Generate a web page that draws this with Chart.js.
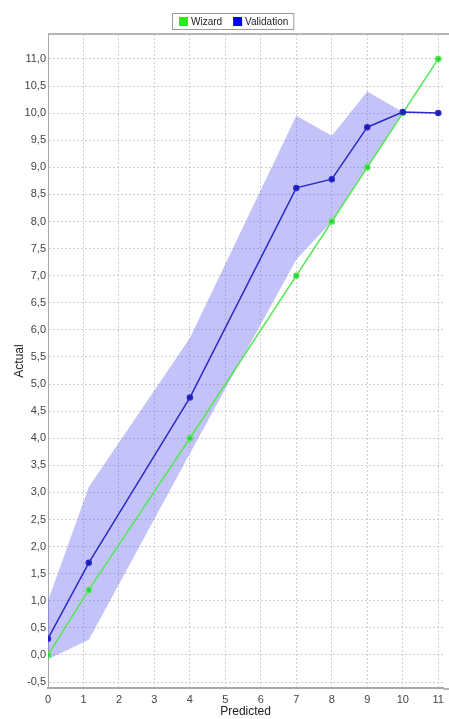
<!DOCTYPE html>
<html>
<head>
<meta charset="utf-8">
<title>Predicted vs Actual</title>
<script src="https://cdn.jsdelivr.net/npm/chart.js@4.4.1/dist/chart.umd.min.js"></script>
<style>
  html, body { margin: 0; padding: 0; background: #ffffff; }
  #chartBox { width: 449px; height: 719px; }
</style>
</head>
<body>
<div id="chartBox"><canvas id="predChart" width="449" height="719"></canvas></div>
<script>
// Dati
const wizardX = [0, 1.15, 4, 7, 8, 9, 10, 11];
const wizardY = [0, 1.2, 4, 7, 8, 9, 10, 11];

const validationX = [0, 1.15, 4, 7, 8, 9, 10, 11];
const validationY = [0.3, 1.7, 4.75, 8.62, 8.78, 9.74, 10.02, 10.0];

// Banda di confidenza della validazione
const bandX = [0, 1.15, 4, 7, 8, 9, 10];
const bandUpper = [1.0, 3.1, 5.85, 9.95, 9.58, 10.4, 10.02];
const bandLower = [-0.08, 0.28, 3.72, 7.3, 8.0, 9.0, 10.0];

const xTickValues = [0, 1, 2, 3, 4, 5, 6, 7, 8, 9, 10, 11];
const yTickValues = [-0.5, 0, 0.5, 1, 1.5, 2, 2.5, 3, 3.5, 4, 4.5, 5, 5.5, 6, 6.5,
                     7, 7.5, 8, 8.5, 9, 9.5, 10, 10.5, 11];

function toPoints(xs, ys) {
    return xs.map((x, i) => ({ x: x, y: ys[i] }));
}

// Legenda in stile riquadro, disegnata a mano
const boxedLegend = {
    id: 'boxedLegend',
    afterDraw(chart) {
        const ctx = chart.ctx;
        const area = chart.chartArea;

        // bordo superiore e asse inferiore fino al bordo dell'immagine
        ctx.save();
        ctx.strokeStyle = '#b4b4b4';
        ctx.lineWidth = 2;
        ctx.beginPath();
        ctx.moveTo(area.left, area.top);
        ctx.lineTo(chart.width, area.top);
        ctx.moveTo(area.right, area.bottom + 1);
        ctx.lineTo(chart.width, area.bottom + 1);
        ctx.stroke();

        const items = chart.data.datasets
            .filter(d => d.legendOrder !== undefined)
            .sort((a, b) => a.legendOrder - b.legendOrder);
        ctx.font = '10px "Liberation Sans", Arial, sans-serif';
        ctx.textBaseline = 'middle';
        const boxX = 172, boxY = 13, boxH = 16;
        let x = boxX + 7;
        const widths = items.map(d => ctx.measureText(d.label).width);
        const boxW = 7 + widths.reduce((s, w) => s + w + 9 + 3 + 11, 0) - 6;

        ctx.fillStyle = '#ffffff';
        ctx.fillRect(boxX, boxY, boxW, boxH);
        ctx.strokeStyle = '#999999';
        ctx.lineWidth = 1;
        ctx.strokeRect(boxX + 0.5, boxY + 0.5, boxW, boxH);

        items.forEach((d, i) => {
            ctx.fillStyle = d.legendColor;
            ctx.fillRect(x, boxY + 4, 9, 9);
            ctx.fillStyle = '#222222';
            ctx.fillText(d.label, x + 12, boxY + 9);
            x += 9 + 3 + widths[i] + 11;
        });
        ctx.restore();
    }
};

function createPredChart() {
    const ctx = document.getElementById('predChart').getContext('2d');

    window.predChart = new Chart(ctx, {
        type: 'line',
        data: {
            datasets: [
                {
                    label: 'Validation',
                    legendOrder: 1,
                    legendColor: '#0000ff',
                    data: toPoints(validationX, validationY),
                    borderColor: '#2a2ac8',
                    backgroundColor: '#1a1ab4',
                    borderWidth: 1.5,
                    pointRadius: 2.5,
                    pointHoverRadius: 2.5,
                    fill: false,
                    order: 0
                },
                {
                    label: 'Wizard',
                    legendOrder: 0,
                    legendColor: '#22ee22',
                    data: toPoints(wizardX, wizardY),
                    borderColor: '#52e852',
                    backgroundColor: '#22cc44',
                    borderWidth: 1.5,
                    pointRadius: 2.5,
                    pointHoverRadius: 2.5,
                    fill: false,
                    order: 1
                },
                {
                    label: 'upper',
                    data: toPoints(bandX, bandUpper),
                    borderWidth: 0,
                    borderColor: 'rgba(0,0,0,0)',
                    backgroundColor: 'rgba(104,104,240,0.4)',
                    pointRadius: 0,
                    fill: '+1',
                    order: 2
                },
                {
                    label: 'lower',
                    data: toPoints(bandX, bandLower),
                    borderWidth: 0,
                    borderColor: 'rgba(0,0,0,0)',
                    pointRadius: 0,
                    fill: false,
                    order: 3
                }
            ]
        },
        options: {
            responsive: false,
            animation: false,
            devicePixelRatio: 1,
            layout: {
                padding: { top: 34, right: 0, bottom: 0, left: 0 }
            },
            plugins: {
                legend: { display: false },
                tooltip: { enabled: false }
            },
            scales: {
                x: {
                    type: 'linear',
                    min: 0,
                    max: 11.14,
                    afterFit: function(scale) { scale.height = 31; },
                    afterBuildTicks: function(scale) {
                        scale.ticks = xTickValues.map(v => ({ value: v }));
                    },
                    ticks: {
                        padding: 5,
                        color: '#444444',
                        font: { family: '"Liberation Sans", Arial, sans-serif', size: 11 },
                        callback: v => String(v)
                    },
                    grid: {
                        color: '#cfcfcf',
                        drawTicks: false
                    },
                    border: {
                        color: '#a8a8a8',
                        width: 2,
                        dash: [2, 2]
                    },
                    title: {
                        display: true,
                        text: 'Predicted',
                        color: '#222222',
                        font: { family: '"Liberation Sans", Arial, sans-serif', size: 12 },
                        padding: { top: 0, bottom: 0 }
                    }
                },
                y: {
                    type: 'linear',
                    min: -0.61,
                    max: 11.46,
                    afterFit: function(scale) { scale.width = 48; },
                    afterBuildTicks: function(scale) {
                        scale.ticks = yTickValues.map(v => ({ value: v }));
                    },
                    ticks: {
                        padding: 2,
                        color: '#444444',
                        font: { family: '"Liberation Sans", Arial, sans-serif', size: 11 },
                        callback: v => v.toFixed(1).replace('.', ',')
                    },
                    grid: {
                        color: '#cfcfcf',
                        drawTicks: false
                    },
                    border: {
                        color: '#a8a8a8',
                        width: 1,
                        dash: [2, 2]
                    },
                    title: {
                        display: true,
                        text: 'Actual',
                        color: '#222222',
                        font: { family: '"Liberation Sans", Arial, sans-serif', size: 12 },
                        padding: { top: 12, bottom: 0 }
                    }
                }
            }
        },
        plugins: [boxedLegend]
    });
}

createPredChart();
</script>
</body>
</html>
